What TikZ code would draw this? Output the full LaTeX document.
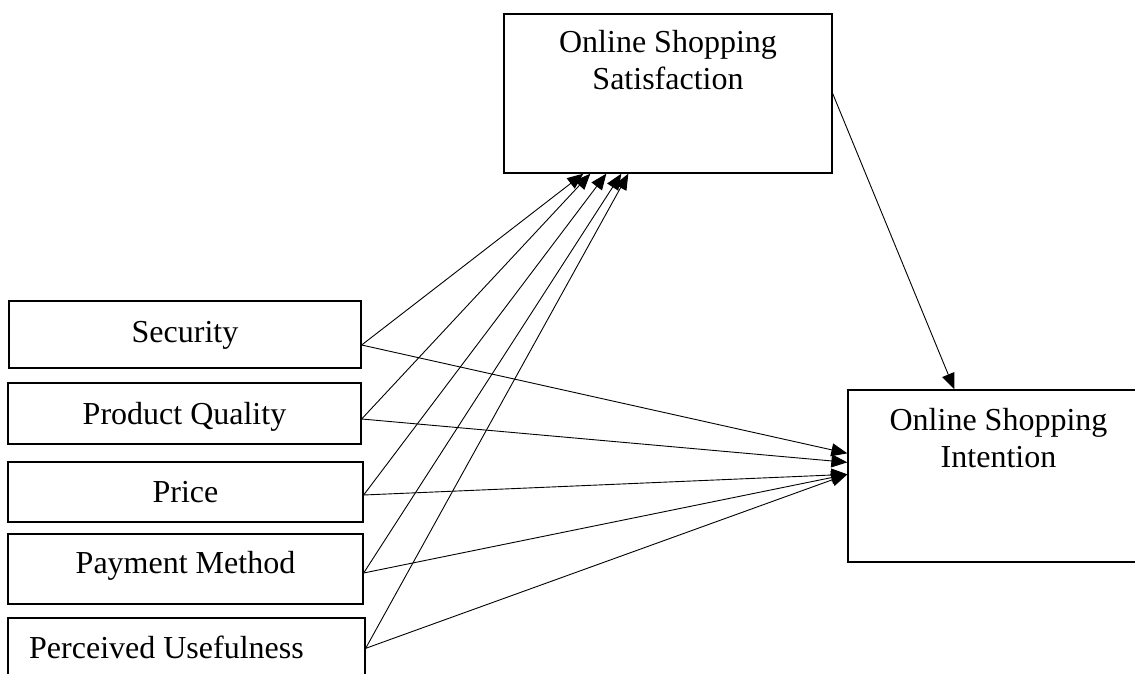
\documentclass[tikz,border=0pt]{standalone}
\usepackage{fontspec}
\setmainfont{Liberation Serif}
\usetikzlibrary{arrows.meta,calc}
\begin{document}
\begin{tikzpicture}[x=1pt,y=-1pt,
  box/.style={draw, line width=1.3pt, inner sep=0pt, text depth=0pt, font=\fontsize{32}{37}\selectfont},
  conn/.style={line width=0.9pt, -{Triangle[length=16pt,width=13pt]}},
  lbl/.style={inner sep=0pt, font=\fontsize{32}{37}\selectfont, align=center}]
\useasboundingbox (0,0) rectangle (1135,674);
\fill[white] (0,0) rectangle (1135,674);
\clip (0,0) rectangle (1135,674);

% outcome boxes
\node[box, minimum width=328pt, minimum height=159pt] (sat) at (668,93.5) {};
\node[lbl, anchor=north] (satl) at ($(sat.north)+(0,17)$) {Online Shopping\\Satisfaction};
\node[box, minimum width=301pt, minimum height=172pt] (int) at (998.5,476) {};
\node[lbl, anchor=north] (intl) at ($(int.north)+(0,19)$) {Online Shopping\\Intention};

% factor boxes
\node[box, minimum width=352pt, minimum height=67pt, text height=15pt] (sec) at (185,334.5) {Security};
\node[box, minimum width=353pt, minimum height=61pt, text height=21pt] (pq) at (184.5,413.5) {Product Quality};
\node[box, minimum width=355pt, minimum height=60pt, text height=20pt] (pr) at (185.5,492) {Price};
\node[box, minimum width=355pt, minimum height=70pt, text height=8pt] (pm) at (185.5,569) {Payment Method};
\node[box, minimum width=357pt, minimum height=82pt] (pu) at (186.5,659) {};
\node[lbl, anchor=base west] (pul) at (29,658) {Perceived Usefulness};

% connectors to satisfaction
\draw[conn] ($(sec.east)+(0,10.5)$) -- ($(sat.south west)+(80,0)$);
\draw[conn] ($(pq.east)+(0,5.5)$) -- ($(sat.south west)+(87,0)$);
\draw[conn] ($(pr.east)+(0,3)$) -- ($(sat.south west)+(103,0)$);
\draw[conn] ($(pm.east)+(0,4)$) -- ($(sat.south west)+(118,0)$);
\draw[conn] ($(pu.north east)+(0,31)$) -- ($(sat.south west)+(125,0)$);

% connectors to intention
\draw[conn] ($(sec.east)+(0,10.5)$) -- ($(int.north west)+(0,64)$);
\draw[conn] ($(pq.east)+(0,5.5)$) -- ($(int.north west)+(0,73)$);
\draw[conn] ($(pr.east)+(0,3)$) -- ($(int.north west)+(0,85)$);
\draw[conn] ($(pm.east)+(0,4)$) -- ($(int.north west)+(0,85)$);
\draw[conn] ($(pu.north east)+(0,31)$) -- ($(int.north west)+(0,85)$);

% satisfaction to intention
\draw[conn] (sat.east) -- ($(int.north west)+(107,0)$);
\end{tikzpicture}
\end{document}
